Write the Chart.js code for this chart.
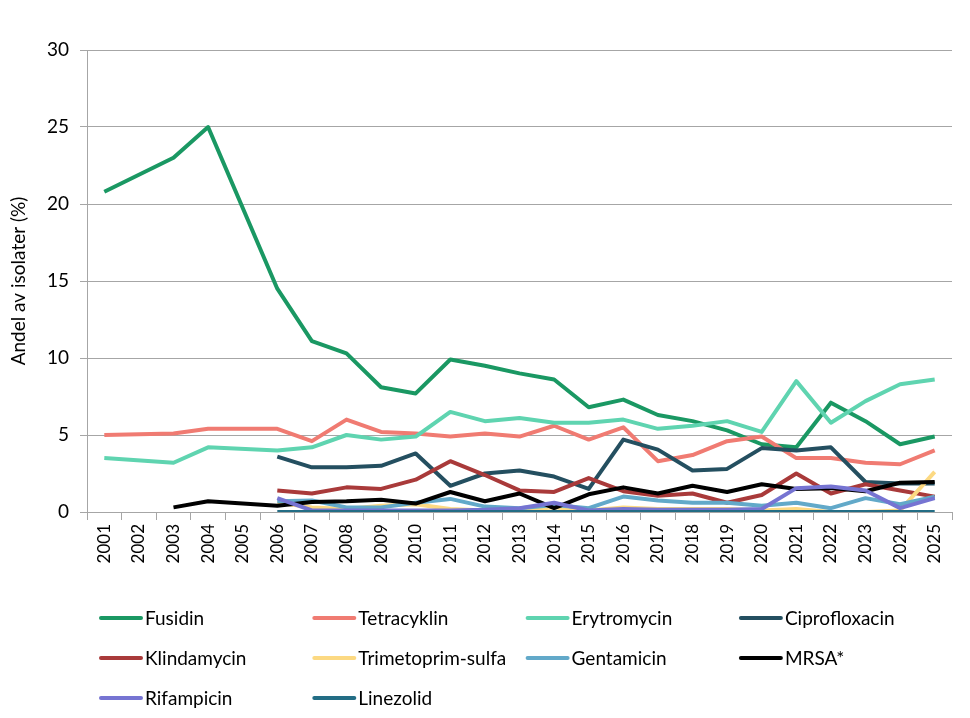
<!DOCTYPE html>
<html>
<head>
<meta charset="utf-8">
<script src="https://cdn.jsdelivr.net/npm/chart.js@4"></script>
<style>
  html, body { margin: 0; padding: 0; background: #fff; }
  #wrap { width: 970px; height: 718px; }
</style>
</head>
<body>
<div id="wrap"><canvas id="resChart"></canvas></div>
<script>
const years = ["2001","2002","2003","2004","2005","2006","2007","2008","2009","2010","2011","2012","2013",
  "2014","2015","2016","2017","2018","2019","2020","2021","2022","2023","2024","2025"];

// 2002 and 2005 missing for the old series (line spans the gap)
const fusidin = [20.8, null, 23.0, 25.0, null, 14.5, 11.1, 10.3, 8.1, 7.7, 9.9, 9.5, 9.0, 8.6, 6.8, 7.3, 6.3, 5.9, 5.3, 4.4, 4.2, 7.1, 5.9, 4.4, 4.9];
const tetracyklin = [5.0, null, 5.1, 5.4, null, 5.4, 4.6, 6.0, 5.2, 5.1, 4.9, 5.1, 4.9, 5.6, 4.7, 5.5, 3.3, 3.7, 4.6, 4.9, 3.5, 3.5, 3.2, 3.1, 4.0];
const erytromycin = [3.5, null, 3.2, 4.2, null, 4.0, 4.2, 5.0, 4.7, 4.9, 6.5, 5.9, 6.1, 5.8, 5.8, 6.0, 5.4, 5.6, 5.9, 5.2, 8.5, 5.8, 7.2, 8.3, 8.6];
const ciprofloxacin = [null, null, null, null, null, 3.6, 2.9, 2.9, 3.0, 3.8, 1.7, 2.5, 2.7, 2.3, 1.5, 4.7, 4.05, 2.7, 2.8, 4.15, 4.0, 4.2, 1.95, 1.85, 1.85];
const klindamycin = [null, null, null, null, null, 1.4, 1.2, 1.6, 1.5, 2.1, 3.3, 2.4, 1.4, 1.3, 2.2, 1.35, 1.05, 1.2, 0.6, 1.1, 2.5, 1.2, 1.8, 1.4, 1.0];
const trimetoprim = [null, null, null, null, null, 0.6, 0.3, 0.2, 0.4, 0.5, 0.2, 0.1, 0.1, 0.3, 0.1, 0.3, 0.2, 0.2, 0.2, 0.1, 0.2, 0.0, 0.0, 0.1, 2.6];
const gentamicin = [null, null, null, null, null, 0.7, 0.75, 0.3, 0.3, 0.6, 0.85, 0.35, 0.25, 0.45, 0.25, 1.0, 0.75, 0.6, 0.6, 0.4, 0.6, 0.25, 0.9, 0.5, 1.0];
const mrsa = [null, null, 0.3, 0.7, null, 0.4, 0.65, 0.7, 0.8, 0.55, 1.3, 0.7, 1.2, 0.25, 1.15, 1.6, 1.2, 1.7, 1.3, 1.8, 1.5, 1.55, 1.35, 1.9, 1.95];
const rifampicin = [null, null, null, null, null, 0.9, 0.1, 0.1, 0.1, 0.1, 0.1, 0.15, 0.25, 0.6, 0.1, 0.2, 0.15, 0.15, 0.15, 0.2, 1.55, 1.65, 1.4, 0.25, 0.9];
const linezolid = [null, null, null, null, null, 0, 0, 0, 0, 0, 0, 0, 0, 0, 0, 0, 0, 0, 0, 0, 0, 0, 0, 0, 0];

const seriesNames = ["Fusidin", "Tetracyklin", "Erytromycin", "Ciprofloxacin", "Klindamycin",
  "Trimetoprim-sulfa", "Gentamicin", "MRSA*", "Rifampicin", "Linezolid"];
const seriesData = [fusidin, tetracyklin, erytromycin, ciprofloxacin, klindamycin,
  trimetoprim, gentamicin, mrsa, rifampicin, linezolid];
const seriesColors = ["#1a9863", "#f07b72", "#5fd4b0", "#244f60", "#a93a3a",
  "#fcd982", "#62a9c9", "#000000", "#7674d2", "#236d85"];
const yTicks = [0, 5, 10, 15, 20, 25, 30];

const FONT = "Lato, 'Open Sans', sans-serif";

// legend in a 4 column grid, like the original
const gridLegend = {
  id: "gridLegend",
  afterDraw(chart) {
    const ctx = chart.ctx;
    ctx.save();
    ctx.font = "19px " + FONT;
    ctx.textBaseline = "middle";
    ctx.fillStyle = "#000";
    chart.data.datasets.forEach((ds, i) => {
      const col = i % 4;
      const row = Math.floor(i / 4);
      const x = 101 + col * 213.3;
      const y = 618 + row * 40;
      ctx.strokeStyle = ds.borderColor;
      ctx.lineWidth = 4;
      ctx.lineCap = "round";
      ctx.beginPath();
      ctx.moveTo(x, y);
      ctx.lineTo(x + 40, y);
      ctx.stroke();
      ctx.fillText(ds.label, x + 44, y + 1);
    });
    ctx.restore();
  }
};

function buildDatasets() {
  const sets = [];
  for (let i = 0; i < seriesNames.length; i++) {
    sets.push({
      label: seriesNames[i],
      data: seriesData[i],
      borderColor: seriesColors[i],
      backgroundColor: seriesColors[i],
      borderWidth: 4,
      pointRadius: 0,
      tension: 0,
      spanGaps: true,
      borderJoinStyle: "round",
      order: seriesNames.length - i
    });
  }
  return sets;
}

window.addEventListener("DOMContentLoaded", function () {
  const config = {
    type: "line",
    data: {
      labels: years,
      datasets: buildDatasets()
    },
    options: {
      responsive: true,
      maintainAspectRatio: false,
      animation: false,
      layout: { padding: { top: 50, right: 18, left: 0, bottom: 0 } },
      plugins: {
        legend: { display: false },
        tooltip: { enabled: false }
      },
      scales: {
        x: {
          offset: true,
          grid: {
            offset: true,
            drawOnChartArea: false,
            color: "#a6a6a6",
            tickLength: 8
          },
          border: { color: "#a6a6a6" },
          ticks: {
            minRotation: 90,
            maxRotation: 90,
            autoSkip: false,
            padding: 4,
            color: "#000",
            font: { family: FONT, size: 17 }
          },
          afterFit(scale) { scale.height = 206; }
        },
        y: {
          min: 0,
          max: 30,
          afterBuildTicks(scale) {
            scale.ticks = yTicks.map(v => ({ value: v }));
          },
          grid: { color: "#a6a6a6", tickLength: 7 },
          border: { color: "#a6a6a6" },
          ticks: {
            padding: 11,
            color: "#000",
            font: { family: FONT, size: 19 }
          },
          title: {
            display: true,
            text: "Andel av isolater (%)",
            color: "#000",
            font: { family: FONT, size: 19 },
            padding: { top: 7, bottom: 0 }
          },
          afterFit(scale) { scale.width = 87; }
        }
      }
    },
    plugins: [gridLegend]
  };
  new Chart(document.getElementById("resChart"), config);
});
</script>
</body>
</html>
